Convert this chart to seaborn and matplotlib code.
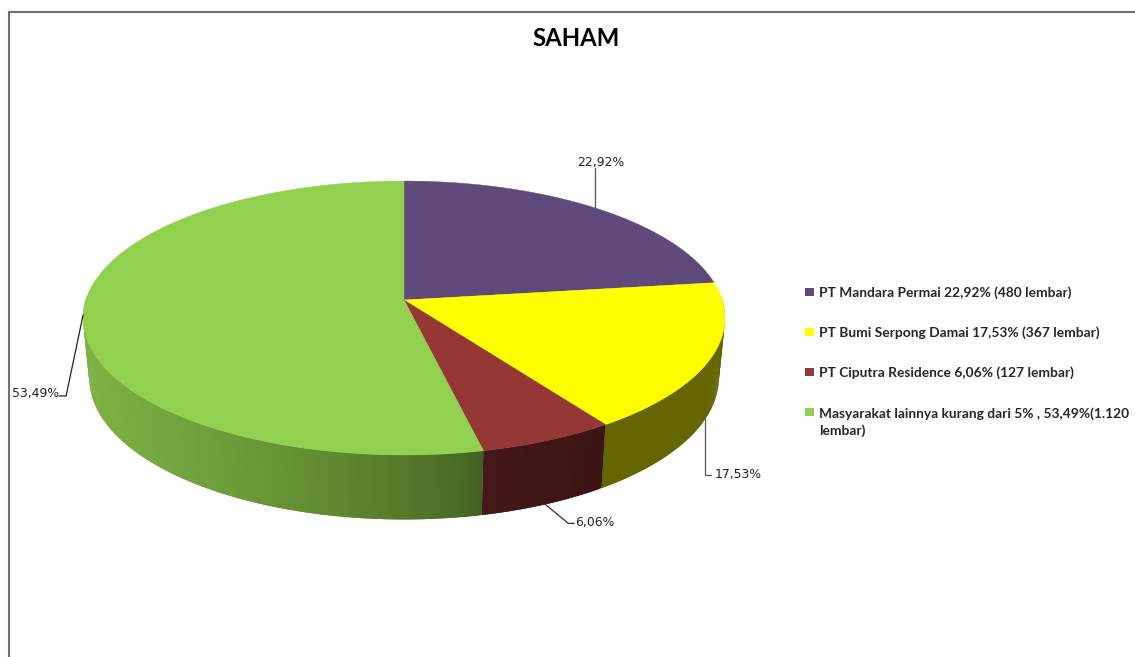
import numpy as np
import pandas as pd
import matplotlib
matplotlib.use('Agg')
import matplotlib.pyplot as plt
from matplotlib.colors import to_rgb
from matplotlib.path import Path
import seaborn as sns

# chart values
holders = ['Mandara', 'Bumi', 'Ciputra', 'Masyarakat']
shares = [22.92, 17.53, 6.06, 53.49]
pct_labels = ['22,92%', '17,53%', '6,06%', '53,49%']
legend_labels = ['PT Mandara Permai 22,92% (480 lembar)',
                 'PT Bumi Serpong Damai 17,53% (367 lembar)',
                 'PT Ciputra Residence 6,06% (127 lembar)',
                 'Masyarakat lainnya kurang dari 5% , 53,49%(1.120\nlembar)']
top_colors = ['#604A7B', '#FFFF00', '#953735', '#92D050']
side_start = ['#3A2C4A', '#666600', '#391512', '#41601F']
side_end = ['#3A2C4A', '#666600', '#451718', '#7DB243']

sns.set_theme(style='white')
plt.rcParams['font.family'] = ['Lato', 'DejaVu Sans']

# pixel-like canvas, y pointing down
fig, ax = plt.subplots(figsize=(11.35, 6.57), dpi=100)
ax.set_position([0, 0, 1, 1])
ax.set_xlim(0, 1135)
ax.set_ylim(657, 0)
ax.axis('off')

# frame of the chart area
ax.plot([9, 9, 1135], [657, 12, 12], color='#6f6f6f', lw=1.5, solid_joinstyle='miter')

K = 0.1314  # perspective
CX = 404


def project(theta, rx, ry, cy):
    """theta in degrees, clockwise from the top of the pie."""
    t = np.radians(theta)
    w = 1 + K * np.cos(t)
    return CX + rx * np.sin(t) / w, cy - ry * np.cos(t) / w


def top_pt(theta):
    return project(theta, 318.2, 134.6, 300)


def bottom_pt(theta):
    return project(theta, 312, 139, 359.4)


edges = np.cumsum([0] + shares) * 3.6

# side wall, in thin overlapping strips so the shading can run across it
for i in range(len(shares)):
    a0, a1 = max(edges[i], 88), min(edges[i + 1], 272)
    if a1 <= a0:
        continue
    th = np.arange(a0, a1 + 0.5, 0.5)
    th[-1] = a1
    xs_all = bottom_pt(th)[0]
    c0, c1 = np.array(to_rgb(side_start[i])), np.array(to_rgb(side_end[i]))
    for j in range(len(th) - 1):
        seg = th[j:j + 3]
        xt, yt = top_pt(seg)
        xb, yb = bottom_pt(seg)
        f = (xs_all.max() - xb[0]) / max(xs_all.max() - xs_all.min(), 1)
        col = c0 + (c1 - c0) * f ** 0.7
        ax.fill(np.r_[xt, xb[::-1]], np.r_[yt, yb[::-1]], color=col, lw=0, zorder=2)

# top surface
for i in range(len(shares)):
    th = np.linspace(edges[i], edges[i + 1], 200)
    x, y = top_pt(th)
    ax.fill(np.r_[CX, x], np.r_[300, y], color=top_colors[i], lw=0.3, zorder=3)

# leader lines and percentage labels, anchored at the slice middle
mids = (edges[:-1] + edges[1:]) / 2
label_font = dict(family='DejaVu Sans', fontsize=8.9, color='#222222', va='center')

x0, y0 = top_pt(mids[0])
ax.plot([x0, x0], [y0, y0 - 40], color='#555555', lw=0.9, zorder=4)
ax.text(x0 + 6, y0 - 45, pct_labels[0], ha='center', **label_font)

x1, y1 = bottom_pt(mids[1])
ax.plot([x1, x1, x1 + 6], [y1, y1 + 56, y1 + 56], color='#555555', lw=0.9, zorder=4)
ax.text(x1 + 10, y1 + 55, pct_labels[1], ha='left', **label_font)

x2, y2 = bottom_pt(mids[2])
ax.plot([x2, x2 + 23, x2 + 29], [y2, y2 + 19, y2 + 19], color='#333333', lw=0.9, zorder=4)
ax.text(x2 + 30, y2 + 18, pct_labels[2], ha='left', **label_font)

x3, y3 = top_pt(mids[3])
ax.plot([x3, x3 - 17, x3 - 24], [y3, y3 + 81, y3 + 81], color='#222222', lw=0.9, zorder=4)
ax.text(x3 - 24, y3 + 79, pct_labels[3], ha='right', **label_font)

# legend swatches
rows = pd.DataFrame({'holder': holders, 'row': range(len(holders))})
rows['x'] = 809.5
rows['y'] = 292 + 40 * rows['row']
swatch = Path([(-1, -0.78), (1, -0.78), (1, 0.78), (-1, 0.78), (-1, -0.78)])
sns.scatterplot(data=rows, x='x', y='y', hue='holder', hue_order=holders,
                palette=top_colors, marker=swatch, s=42, linewidth=0,
                legend=False, ax=ax, zorder=5)
ax.set_xlabel('')
ax.set_ylabel('')
for i, lab in enumerate(legend_labels):
    # the two-line entry is centred on its pair of lines
    ty = 293 + 40 * i + (9 if '\n' in lab else 0)
    ax.text(819, ty, lab, fontsize=9.9, fontweight='bold', color='#262626',
            ha='left', va='center', linespacing=1.44)

ax.text(576.5, 38, 'SAHAM', fontsize=17.2, fontweight='bold', color='black',
        ha='center', va='center')

fig.savefig('out.png', dpi=100)
